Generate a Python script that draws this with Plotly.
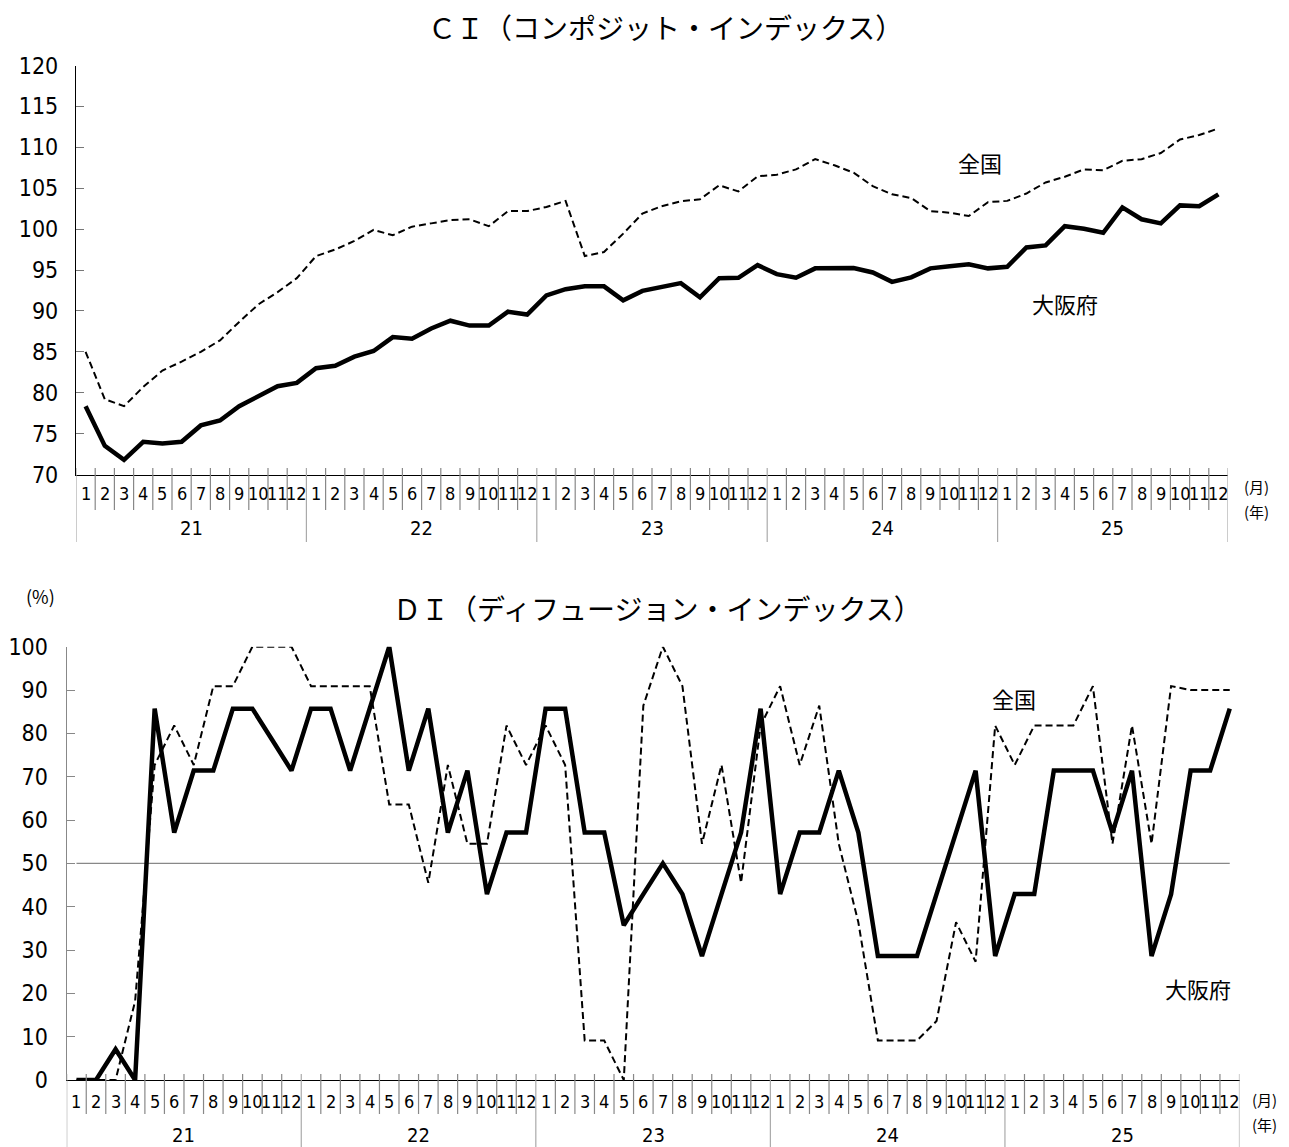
import plotly.graph_objects as go

# ---------------- data ----------------
years = ["21", "22", "23", "24", "25"]
month_labels = [str(m) for m in range(1, 13)]
ci_yticks = [70, 75, 80, 85, 90, 95, 100, 105, 110, 115, 120]
di_yticks = [0, 10, 20, 30, 40, 50, 60, 70, 80, 90, 100]

ci_osaka = [
    78.35, 73.5, 71.8, 74.0, 73.8, 74.0, 76.0, 76.6, 78.35, 79.5, 80.8, 81.2,
    83.0, 83.3, 84.4, 85.1, 86.8, 86.6, 87.85, 88.8, 88.2, 88.2, 89.9, 89.55,
    91.9, 92.65, 93.0, 93.0, 91.3, 92.45, 92.95, 93.4, 91.65, 94.0, 94.05, 95.6,
    94.5, 94.05, 95.2, 95.25, 95.25, 94.7, 93.55, 94.1, 95.2, 95.45, 95.7, 95.2,
    95.4, 97.75, 98.0, 100.35, 100.05, 99.55, 102.65, 101.2, 100.7, 102.9, 102.8, 104.25,
]
ci_zenkoku = [
    85.0, 79.2, 78.35, 80.7, 82.7, 83.8, 85.0, 86.4, 88.65, 90.8, 92.3, 94.0,
    96.7, 97.5, 98.55, 99.9, 99.25, 100.3, 100.7, 101.1, 101.2, 100.35, 102.2, 102.2,
    102.7, 103.45, 96.7, 97.2, 99.45, 101.9, 102.8, 103.4, 103.65, 105.35, 104.6, 106.45,
    106.65, 107.3, 108.55, 107.8, 106.9, 105.25, 104.25, 103.8, 102.2, 102.0, 101.6, 103.3,
    103.45, 104.35, 105.7, 106.4, 107.3, 107.2, 108.35, 108.55, 109.3, 110.95, 111.5, 112.3,
]
di_osaka = [
    0.0, 0.0, 7.1, 0.0, 85.7, 57.1, 71.4, 71.4, 85.7, 85.7, 78.6, 71.4,
    85.7, 85.7, 71.4, 85.7, 100.0, 71.4, 85.7, 57.1, 71.4, 42.9, 57.1, 57.1,
    85.7, 85.7, 57.1, 57.1, 35.7, 42.9, 50.0, 42.9, 28.6, 42.9, 57.1, 85.7,
    42.9, 57.1, 57.1, 71.4, 57.1, 28.6, 28.6, 28.6, 42.9, 57.1, 71.4, 28.6,
    42.9, 42.9, 71.4, 71.4, 71.4, 57.1, 71.4, 28.6, 42.9, 71.4, 71.4, 85.7,
]
di_zenkoku = [
    0.0, 0.0, 0.0, 18.2, 72.7, 81.8, 72.7, 90.9, 90.9, 100.0, 100.0, 100.0,
    90.9, 90.9, 90.9, 90.9, 63.6, 63.6, 45.5, 72.7, 54.5, 54.5, 81.8, 72.7,
    81.8, 72.7, 9.1, 9.1, 0.0, 86.4, 100.0, 90.9, 54.5, 72.7, 45.5, 81.8,
    90.9, 72.7, 86.4, 54.5, 36.4, 9.1, 9.1, 9.1, 13.6, 36.4, 27.3, 81.8,
    72.7, 81.8, 81.8, 81.8, 90.9, 54.5, 81.8, 54.5, 90.9, 90.0, 90.0, 90.0,
]
di_baseline = 50

# ---------------- layout helpers ----------------
W, H = 1289, 1147
NUM_FONT = "Liberation Sans Narrow, DejaVu Sans Condensed, Roboto, Noto Sans CJK JP, sans-serif"
JP_FONT = "Noto Sans CJK JP, sans-serif"


def py(p):
    return 1 - p / H


def px(p):
    return p / W


n = len(ci_osaka)
xs = list(range(n))

fig = go.Figure()

# CI traces
fig.add_trace(go.Scatter(x=xs, y=ci_zenkoku, mode="lines", name="全国",
                         line=dict(color="black", width=2, dash="7px,4px"),
                         xaxis="x", yaxis="y"))
fig.add_trace(go.Scatter(x=xs, y=ci_osaka, mode="lines", name="大阪府",
                         line=dict(color="black", width=4.5),
                         xaxis="x", yaxis="y"))
# DI traces
fig.add_trace(go.Scatter(x=xs, y=di_zenkoku, mode="lines", name="全国",
                         line=dict(color="black", width=2, dash="7px,4px"),
                         xaxis="x2", yaxis="y2"))
fig.add_trace(go.Scatter(x=xs, y=di_osaka, mode="lines", name="大阪府",
                         line=dict(color="black", width=4.5),
                         xaxis="x2", yaxis="y2"))

# geometry (pixels)
top = dict(x0=76, x1=1228, ytop=65.5, ybot=474.5, month_y=494, year_y=528,
           sep_top=468, month_sep_bot=510, year_sep_bot=542,
           unit_x=1256, unit_m=486, unit_y=511)
bot = dict(x0=66.7, x1=1239.5, ytop=646.7, ybot=1080, month_y=1101, year_y=1135,
           sep_top=1074, month_sep_bot=1114, year_sep_bot=1147,
           unit_x=1264, unit_m=1099, unit_y=1124)

common_x = dict(range=[-0.5, n - 0.5], showgrid=False, zeroline=False,
                showticklabels=False, ticks="", showline=True, automargin=False,
                linecolor="black", linewidth=1.3, fixedrange=True)

fig.update_layout(
    width=W, height=H,
    margin=dict(l=0, r=0, t=0, b=0, pad=0, autoexpand=False),
    paper_bgcolor="white", plot_bgcolor="white",
    showlegend=False,
    xaxis=dict(domain=[px(top["x0"]), px(top["x1"])], anchor="y", **common_x),
    yaxis=dict(domain=[py(top["ybot"]), py(top["ytop"])], anchor="x",
               range=[70, 120], tickvals=ci_yticks, showgrid=False, zeroline=False,
               showline=True, linecolor="black", linewidth=1.3, automargin=False,
               ticks="inside", ticklen=8, tickcolor="#777", tickwidth=1,
               tickfont=dict(family=NUM_FONT, size=23, color="black"),
               ticklabelstandoff=12, fixedrange=True),
    xaxis2=dict(domain=[px(bot["x0"]), px(bot["x1"])], anchor="y2", **common_x),
    yaxis2=dict(domain=[py(bot["ybot"]), py(bot["ytop"])], anchor="x2",
                range=[0, 100], tickvals=di_yticks, showgrid=False, zeroline=False,
                showline=True, linecolor="#888", linewidth=1.3, automargin=False,
                ticks="inside", ticklen=8, tickcolor="#888", tickwidth=1,
                tickfont=dict(family=NUM_FONT, size=23, color="black"),
                ticklabelstandoff=13, fixedrange=True),
)

shapes = []
annotations = []

# baseline at 50 in DI chart (from first to last data point)
shapes.append(dict(type="line", xref="x2", yref="y2", x0=0, x1=n - 1,
                   y0=di_baseline, y1=di_baseline,
                   line=dict(color="#888", width=1.2), layer="below"))

for g, xr in ((top, "x"), (bot, "x2")):
    for i in range(n + 1):
        is_year = (i % 12 == 0)
        shapes.append(dict(
            type="line", xref=xr, yref="paper",
            x0=i - 0.5, x1=i - 0.5,
            y0=py(g["year_sep_bot"] if is_year else g["month_sep_bot"]),
            y1=py(g["sep_top"]),
            line=dict(color="#aaa" if is_year else "#888", width=1.2)))
    for i in range(n):
        annotations.append(dict(
            x=i, y=py(g["month_y"]), xref=xr, yref="paper",
            text=month_labels[i % 12], showarrow=False,
            font=dict(family=NUM_FONT, size=18, color="black"),
            xanchor="center", yanchor="middle"))
    for k, yl in enumerate(years):
        annotations.append(dict(
            x=12 * k + 5.5, y=py(g["year_y"]), xref=xr, yref="paper",
            text=yl, showarrow=False,
            font=dict(family=NUM_FONT, size=20, color="black"),
            xanchor="center", yanchor="middle"))
    annotations.append(dict(x=px(g["unit_x"]), y=py(g["unit_m"]), xref="paper", yref="paper",
                            text="(月)", showarrow=False,
                            font=dict(family=JP_FONT, size=15, color="black"),
                            xanchor="center", yanchor="middle", borderpad=0))
    annotations.append(dict(x=px(g["unit_x"]), y=py(g["unit_y"]), xref="paper", yref="paper",
                            text="(年)", showarrow=False,
                            font=dict(family=JP_FONT, size=15, color="black"),
                            xanchor="center", yanchor="middle", borderpad=0))

# titles
annotations.append(dict(x=px(665), y=py(27), xref="paper", yref="paper",
                        text="ＣＩ（コンポジット・インデックス）", showarrow=False,
                        font=dict(family=JP_FONT, size=28, color="black"),
                        xanchor="center", yanchor="middle"))
annotations.append(dict(x=px(657), y=py(608), xref="paper", yref="paper",
                        text="ＤＩ（ディフュージョン・インデックス）", showarrow=False,
                        font=dict(family=JP_FONT, size=28, color="black"),
                        xanchor="center", yanchor="middle"))
annotations.append(dict(x=px(40), y=py(596), xref="paper", yref="paper",
                        text="(%)", showarrow=False,
                        font=dict(family=JP_FONT, size=18, color="black"),
                        xanchor="center", yanchor="middle"))

# series labels
annotations.append(dict(x=px(980), y=py(162), xref="paper", yref="paper",
                        text="全国", showarrow=False,
                        font=dict(family=JP_FONT, size=22, color="black"),
                        xanchor="center", yanchor="middle"))
annotations.append(dict(x=px(1065), y=py(303), xref="paper", yref="paper",
                        text="大阪府", showarrow=False,
                        font=dict(family=JP_FONT, size=22, color="black"),
                        xanchor="center", yanchor="middle"))
annotations.append(dict(x=px(1014), y=py(698), xref="paper", yref="paper",
                        text="全国", showarrow=False,
                        font=dict(family=JP_FONT, size=22, color="black"),
                        xanchor="center", yanchor="middle"))
annotations.append(dict(x=px(1198), y=py(988), xref="paper", yref="paper",
                        text="大阪府", showarrow=False,
                        font=dict(family=JP_FONT, size=22, color="black"),
                        xanchor="center", yanchor="middle"))

fig.update_layout(shapes=shapes, annotations=annotations)

fig.write_html("out.html", config={"displayModeBar": False})
